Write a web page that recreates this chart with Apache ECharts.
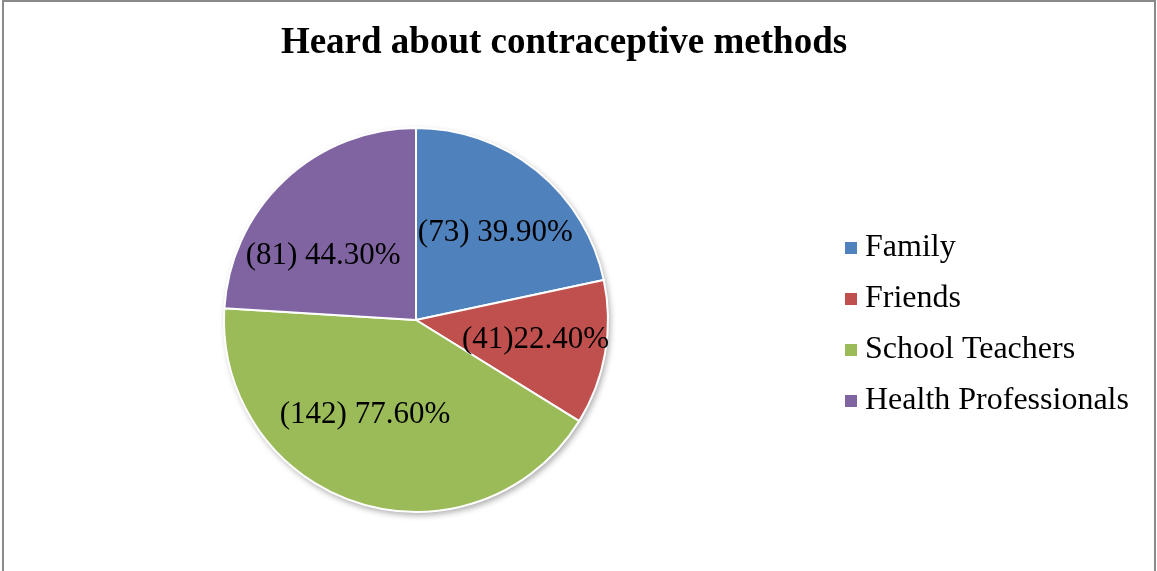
<!DOCTYPE html>
<html>
<head>
<meta charset="utf-8">
<script src="https://cdn.jsdelivr.net/npm/echarts@6/dist/echarts.min.js"></script>
<style>
  html, body { margin: 0; padding: 0; background: #fff; overflow: hidden; }
  #chart { position: absolute; left: 0; top: 0; width: 1157px; height: 571px; }
  .frame { position: absolute; left: 2px; top: 0px; width: 1150px; height: 640px;
           border: 2px solid #8a8a8a; pointer-events: none; }
</style>
</head>
<body>
<div id="chart"></div>
<div class="frame"></div>
<script>
// sources of information about contraceptive methods
var categories = ['Family', 'Friends', 'School Teachers', 'Health Professionals'];
var counts = [73, 41, 142, 81];
var labelTexts = ['(73) 39.90%', '(41)22.40%', '(142) 77.60%', '(81) 44.30%'];
var colors = ['#4F81BD', '#C0504D', '#9BBB59', '#8064A2'];

// nudge the labels a bit outwards, like in the original
var labelOffsets = [[17, -10], [22, 3], [-21, 1], [-25, 8]];

var font = '"Liberation Serif", "Times New Roman", serif';

var pieData = categories.map(function (name, i) {
    return {
        name: name,
        value: counts[i],
        itemStyle: { color: colors[i] },
        label: { formatter: labelTexts[i], offset: labelOffsets[i] }
    };
});

var myChart = echarts.init(document.getElementById('chart'));
myChart.setOption({
    animation: false,
    backgroundColor: '#fff',
    title: {
        text: 'Heard about contraceptive methods',
        left: 564,
        textAlign: 'center',
        top: 25,
        padding: 0,
        textStyle: { fontFamily: font, fontWeight: 'bold', fontSize: 37, color: '#000' }
    },
    legend: {
        orient: 'vertical',
        left: 843,
        top: 232,
        padding: 0,
        itemWidth: 14,
        itemHeight: 14,
        itemGap: 19,
        icon: 'rect',
        data: categories,
        textStyle: { fontFamily: font, fontSize: 32, lineHeight: 32, color: '#000', padding: [0, 0, 0, 2] }
    },
    series: [
        {
            // soft shadow behind the pie
            type: 'pie',
            silent: true,
            center: [416, 320],
            radius: 192,
            z: 1,
            label: { show: false },
            labelLine: { show: false },
            itemStyle: {
                color: '#fff',
                shadowBlur: 6,
                shadowOffsetX: 2,
                shadowOffsetY: 3,
                shadowColor: 'rgba(0,0,0,0.35)'
            },
            data: [{ name: '', value: 1 }]
        },
        {
            type: 'pie',
            center: [416, 320],
            radius: 192,
            startAngle: 90,
            clockwise: true,
            z: 2,
            itemStyle: { borderColor: '#fff', borderWidth: 2 },
            label: {
                show: true,
                position: 'inside',
                fontFamily: font,
                fontSize: 31,
                color: '#000'
            },
            labelLine: { show: false },
            emphasis: { disabled: true },
            data: pieData
        }
    ]
});
</script>
</body>
</html>
